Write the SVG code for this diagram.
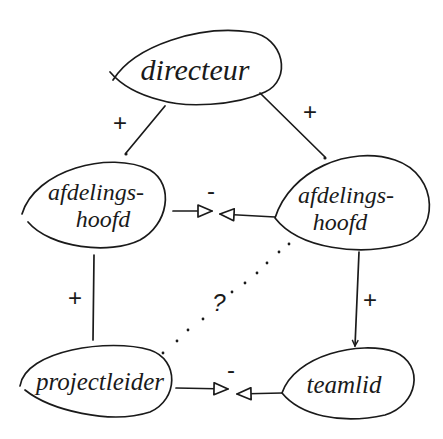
<svg xmlns="http://www.w3.org/2000/svg" width="443" height="439" viewBox="0 0 443 439">
<style>
.shape{fill:none;stroke:#1a1a1a;stroke-width:1.7;stroke-linecap:round;stroke-linejoin:round}
.line{fill:none;stroke:#1a1a1a;stroke-width:1.7;stroke-linecap:round}
.dot{fill:#1a1a1a}
.lbl{font-family:"Liberation Serif",serif;font-style:italic;fill:#1a1a1a;text-anchor:middle}
.sign{font-family:"Liberation Sans",sans-serif;fill:#1a1a1a;text-anchor:middle;font-size:24px}
</style>
<defs>
<marker id="tri" viewBox="0 0 16 14" refX="15" refY="7" markerWidth="16" markerHeight="14" markerUnits="userSpaceOnUse" orient="auto">
<path d="M1,1 L15,7 L1,13 Z" fill="#fff" stroke="#1a1a1a" stroke-width="1.7" stroke-linejoin="round"/>
</marker>
<marker id="vee" viewBox="0 0 8 8" refX="7" refY="4" markerWidth="8" markerHeight="8" markerUnits="userSpaceOnUse" orient="auto">
<path d="M1,1 L7,4 L1,7" fill="none" stroke="#1a1a1a" stroke-width="1.4"/>
</marker>
</defs>
<rect width="443" height="439" fill="#fff"/>
<g id="connectors">
<line class="line" x1="165" y1="106" x2="126" y2="153"/>
<circle class="dot" cx="126" cy="154" r="1.6"/>
<line class="line" x1="260" y1="93" x2="325" y2="157"/>
<circle class="dot" cx="325" cy="158" r="1.6"/>
<line class="line" x1="94" y1="255" x2="93" y2="340"/>
<line class="line" x1="359" y1="252" x2="355" y2="346" marker-end="url(#vee)"/>
<line class="line" x1="173" y1="211" x2="212" y2="211" marker-end="url(#tri)"/>
<line class="line" x1="275" y1="217" x2="220" y2="214" marker-end="url(#tri)"/>
<line class="line" x1="176" y1="388" x2="228" y2="389" marker-end="url(#tri)"/>
<line class="line" x1="282" y1="393" x2="237" y2="394" marker-end="url(#tri)"/>
<g class="dot">
<circle cx="163" cy="353" r="1.4"/>
<circle cx="177" cy="341" r="1.4"/>
<circle cx="188" cy="330" r="1.4"/>
<circle cx="203" cy="319" r="1.4"/>
<circle cx="232" cy="292" r="1.4"/>
<circle cx="245" cy="283" r="1.4"/>
<circle cx="257" cy="273" r="1.4"/>
<circle cx="267" cy="263" r="1.4"/>
<circle cx="279" cy="252" r="1.4"/>
<circle cx="289" cy="244" r="1.4"/>
</g>
<text class="sign" x="120" y="131">+</text>
<text class="sign" x="310" y="120">+</text>
<text class="sign" x="75" y="306">+</text>
<text class="sign" x="370" y="308">+</text>
<text class="sign" x="211" y="199">-</text>
<text class="sign" x="231" y="378">-</text>
<text class="sign" x="219" y="311" font-style="italic">?</text>
</g>
<g id="directeur">
<path class="shape" d="M113,80 C135,45 200,25 250,32 C285,37 292,80 265,92 C235,106 185,108 160,100 C140,95 122,86 110,72"/>
<text class="lbl" x="195" y="80" font-size="30">directeur</text>
</g>
<g id="afdelingshoofd-links">
<path class="shape" d="M22,214 C35,170 110,150 150,170 C175,185 168,225 140,240 C110,255 50,248 28,222"/>
<text class="lbl" x="96" y="200" font-size="24">afdelings-</text>
<text class="lbl" x="103" y="227" font-size="24">hoofd</text>
</g>
<g id="afdelingshoofd-rechts">
<path class="shape" d="M275,218 C290,170 350,145 395,160 C440,175 440,235 400,245 C360,255 300,250 275,218 Z"/>
<text class="lbl" x="346" y="203" font-size="24">afdelings-</text>
<text class="lbl" x="340" y="230" font-size="24">hoofd</text>
</g>
<g id="projectleider">
<path class="shape" d="M20,386 C25,350 110,338 150,350 C180,360 178,400 150,412 C110,425 50,410 25,390"/>
<text class="lbl" x="100" y="390" font-size="25">projectleider</text>
</g>
<g id="teamlid">
<path class="shape" d="M282,393 C295,355 360,340 395,352 C425,365 418,405 385,415 C340,425 300,415 282,393 Z"/>
<text class="lbl" x="344" y="393" font-size="25">teamlid</text>
</g>
</svg>
